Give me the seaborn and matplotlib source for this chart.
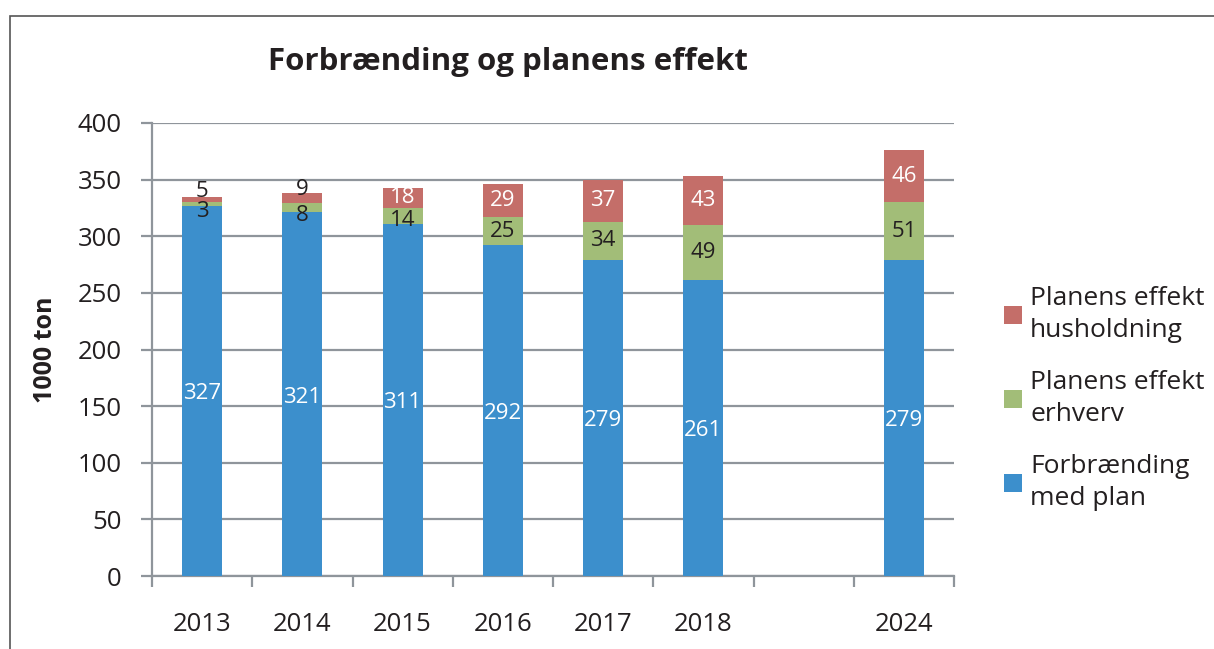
import numpy as np
import pandas as pd
import matplotlib
matplotlib.use("Agg")
import matplotlib.pyplot as plt
from matplotlib.patches import Rectangle, Patch
import seaborn as sns

# ---- data ----
years = ["2013", "2014", "2015", "2016", "2017", "2018", "2024"]
order = ["2013", "2014", "2015", "2016", "2017", "2018", " ", "2024"]
forbraending = [327, 321, 311, 292, 279, 261, 279]
erhverv = [3, 8, 14, 25, 34, 49, 51]
husholdning = [5, 9, 18, 29, 37, 43, 46]
series_names = ["Planens effekt\nhusholdning", "Planens effekt\nerhverv", "Forbrænding\nmed plan"]
yticks = [0, 50, 100, 150, 200, 250, 300, 350, 400]

c_blue = "#3C8FCC"
c_green = "#A2BD78"
c_red = "#C46E69"
grid_c = "#8F959B"
txt_c = "#231F20"

sns.set_theme(style="white")
plt.rcParams["font.family"] = ["Open Sans", "DejaVu Sans"]

df = pd.DataFrame({"year": years, "blue": forbraending, "green": erhverv, "red": husholdning})
df["top_green"] = df["blue"] + df["green"]
df["top_red"] = df["top_green"] + df["red"]

fig = plt.figure(figsize=(12.14, 6.49), dpi=100)
ax = fig.add_axes([152/1214, 1-576/649, (954-152)/1214, (576-123)/649])

for col, c in [("top_red", c_red), ("top_green", c_green), ("blue", c_blue)]:
    sns.barplot(data=df, x="year", y=col, order=order, color=c, width=0.4,
                saturation=1, ax=ax, zorder=3, linewidth=0)

ax.set_ylim(0, 400)
ax.set_xlim(-0.5, 7.5)
ax.set_yticks(yticks)
ax.set_yticklabels([str(v) for v in yticks], fontsize=18.5, color=txt_c)
ax.yaxis.grid(True, color=grid_c, linewidth=1.6, zorder=0)
ax.set_axisbelow(True)
ax.set_xlabel("")
ax.set_ylabel("")
for s in ["top", "right"]:
    ax.spines[s].set_visible(False)
for s in ["left", "bottom"]:
    ax.spines[s].set_color(grid_c)
    ax.spines[s].set_linewidth(1.6)
ax.tick_params(axis="y", length=8, width=1.6, color=grid_c, pad=14, left=True)
ax.set_xticks(range(len(order)))
ax.set_xticklabels([o.strip() for o in order], fontsize=18.5, color=txt_c)
ax.tick_params(axis="x", which="major", length=0, pad=26)
ax.set_xticks(np.arange(-0.5, 8.0, 1.0), minor=True)
ax.tick_params(axis="x", which="minor", length=8, width=1.6, color=grid_c, bottom=True)

# data labels
xpos = {o: i for i, o in enumerate(order)}
for _, r in df.iterrows():
    x = xpos[r["year"]]
    small = r["green"] < 10
    g_off = -5.5 if small else (-3 if r["green"] < 20 else 0)
    r_off = 6 if small else 0
    ax.annotate(str(r["blue"]), (x, r["blue"] / 2), xytext=(0, -2), textcoords="offset points",
                ha="center", va="center", fontsize=16, color="white", zorder=5)
    ax.annotate(str(r["green"]), (x, r["blue"] + r["green"] / 2),
                xytext=(0, g_off), textcoords="offset points",
                ha="center", va="center", fontsize=16, color=txt_c, zorder=5)
    ax.annotate(str(r["red"]), (x, r["top_green"] + r["red"] / 2),
                xytext=(0, r_off), textcoords="offset points",
                ha="center", va="center", fontsize=16,
                color=txt_c if small else "white", zorder=5)

# title and y label
fig.text(508/1214, 1-62/649, "Forbrænding og planens effekt", ha="center", va="center",
         fontsize=22.5, fontweight="bold", color=txt_c)
fig.text(45/1214, 1-350/649, "1000 ton", ha="center", va="center", rotation=90,
         fontsize=18, fontweight="bold", color=txt_c)

# legend
handles = [Patch(facecolor=c, edgecolor="none") for c in [c_red, c_green, c_blue]]
leg = fig.legend(handles, series_names, loc="upper left", bbox_to_anchor=(980/1214, 1-262/649),
                 frameon=False, fontsize=19, handlelength=0.7, handleheight=0.7,
                 handletextpad=0.3, labelspacing=1.0, labelcolor=txt_c)
for t in leg.get_texts():
    t.set_linespacing(1.4)

# outer frame
fig.patches.append(Rectangle((10/1214, -0.05), 1.2, 1.05 - 16/649,
                             transform=fig.transFigure, fill=False,
                             edgecolor="#555555", linewidth=1.2, zorder=0))

fig.savefig("out.png", dpi=100)
